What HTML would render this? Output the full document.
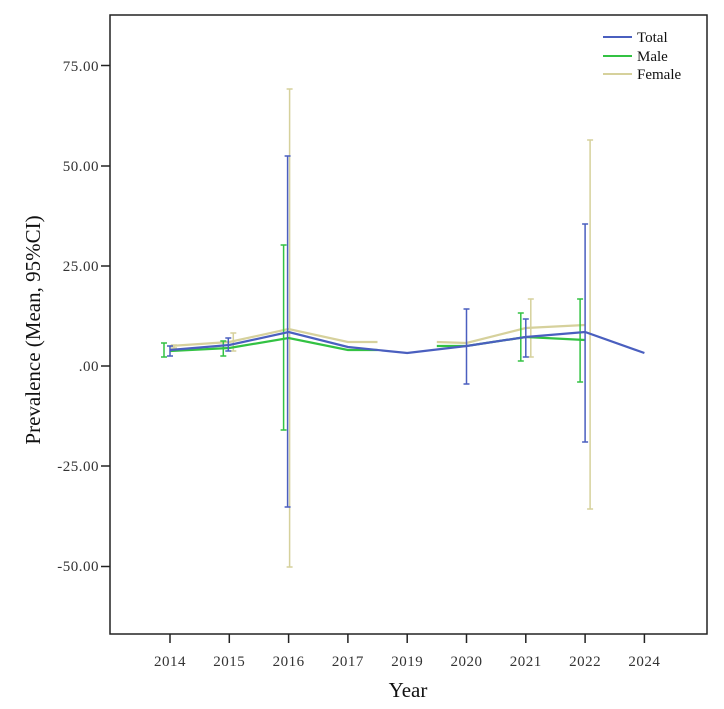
<!DOCTYPE html>
<html><head><meta charset="utf-8"><style>
html,body{margin:0;padding:0;background:#fff;}
svg{display:block;font-family:"Liberation Serif",serif;}
</style></head><body>
<svg width="724" height="709" viewBox="0 0 724 709" xmlns="http://www.w3.org/2000/svg">
<rect x="110" y="15" width="597" height="619" fill="#fff" stroke="#222" stroke-width="1.5"/>
<g stroke="#222" stroke-width="1.5">
<line x1="101" y1="65.5" x2="110" y2="65.5"/><line x1="101" y1="166" x2="110" y2="166"/>
<line x1="101" y1="266" x2="110" y2="266"/><line x1="101" y1="366" x2="110" y2="366"/>
<line x1="101" y1="466" x2="110" y2="466"/><line x1="101" y1="566.5" x2="110" y2="566.5"/>
<line x1="170" y1="634" x2="170" y2="643"/><line x1="229.3" y1="634" x2="229.3" y2="643"/>
<line x1="288.6" y1="634" x2="288.6" y2="643"/><line x1="347.9" y1="634" x2="347.9" y2="643"/>
<line x1="407.2" y1="634" x2="407.2" y2="643"/><line x1="466.5" y1="634" x2="466.5" y2="643"/>
<line x1="525.8" y1="634" x2="525.8" y2="643"/><line x1="585.1" y1="634" x2="585.1" y2="643"/>
<line x1="644.4" y1="634" x2="644.4" y2="643"/>
</g>
<g font-size="15" fill="#333" text-anchor="end" letter-spacing="0.5">
<text x="99" y="71">75.00</text><text x="99" y="171">50.00</text><text x="99" y="271">25.00</text>
<text x="99" y="371">.00</text><text x="99" y="471">-25.00</text><text x="99" y="571">-50.00</text>
</g>
<g font-size="15" fill="#333" text-anchor="middle" letter-spacing="0.5">
<text x="170" y="666">2014</text><text x="229.3" y="666">2015</text><text x="288.6" y="666">2016</text>
<text x="347.9" y="666">2017</text><text x="407.2" y="666">2019</text><text x="466.5" y="666">2020</text>
<text x="525.8" y="666">2021</text><text x="585.1" y="666">2022</text><text x="644.4" y="666">2024</text>
</g>
<text x="408" y="697" font-size="21" text-anchor="middle" fill="#111">Year</text>
<text transform="translate(40,330) rotate(-90)" font-size="21" text-anchor="middle" fill="#111">Prevalence (Mean, 95%CI)</text>
<!-- Female -->
<g stroke="#d6d19c" stroke-width="2.2" fill="none">
<polyline points="170,346 229.3,342 288.6,329 347.9,342 377.5,342"/>
<polyline points="436.8,342 466.5,343 525.8,328 585.1,325"/>
<g stroke-width="1.5">
<path d="M174,345V348M171,345h6M171,348h6"/>
<path d="M233.3,333V351M230.3,333h6M230.3,351h6"/>
<path d="M289.6,89V567M286.6,89h6M286.6,567h6"/>
<path d="M530.8,299V357M527.8,299h6M527.8,357h6"/>
<path d="M590.1,140V509M587.1,140h6M587.1,509h6"/>
</g></g>
<!-- Male -->
<g stroke="#33c243" stroke-width="2.2" fill="none">
<polyline points="170,351 229.3,348 288.6,338 347.9,350 377.5,350"/>
<polyline points="436.8,346 466.5,346 525.8,337 585.1,340"/>
<g stroke-width="1.5">
<path d="M164,343V357M161,343h6M161,357h6"/>
<path d="M223.3,341V356M220.3,341h6M220.3,356h6"/>
<path d="M283.6,245V430M280.6,245h6M280.6,430h6"/>
<path d="M520.8,313V361M517.8,313h6M517.8,361h6"/>
<path d="M580.1,299V382M577.1,299h6M577.1,382h6"/>
</g></g>
<!-- Total -->
<g stroke="#4a5fbf" stroke-width="2.2" fill="none">
<polyline points="170,350 229.3,345 288.6,332 347.9,347 407.2,353 466.5,346 525.8,337 585.1,332 644.4,353"/>
<g stroke-width="1.5">
<path d="M170,346V356M167,346h6M167,356h6"/>
<path d="M228.3,338V351M225.3,338h6M225.3,351h6"/>
<path d="M287.6,156V507M284.6,156h6M284.6,507h6"/>
<path d="M466.5,309V384M463.5,309h6M463.5,384h6"/>
<path d="M525.8,319V357M522.8,319h6M522.8,357h6"/>
<path d="M585.1,224V442M582.1,224h6M582.1,442h6"/>
</g></g>
<!-- Legend -->
<line x1="603" y1="37" x2="632" y2="37" stroke="#4a5fbf" stroke-width="2"/>
<line x1="603" y1="56" x2="632" y2="56" stroke="#33c243" stroke-width="2"/>
<line x1="603" y1="74" x2="632" y2="74" stroke="#d6d19c" stroke-width="2"/>
<g font-size="15" fill="#111">
<text x="637" y="42">Total</text><text x="637" y="61">Male</text><text x="637" y="79">Female</text>
</g>
</svg>
</body></html>
